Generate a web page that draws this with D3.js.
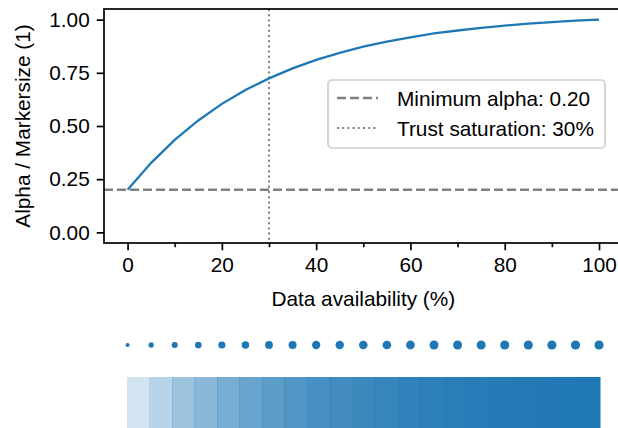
<!DOCTYPE html>
<html>
<head>
<meta charset="utf-8">
<script src="https://cdn.jsdelivr.net/npm/d3@7"></script>
<style>
  body { margin: 0; background: #fff; }
  svg { display: block; font-family: "Liberation Sans", Arial, Helvetica, sans-serif; }
</style>
</head>
<body>
<div id="chart"></div>
<script>
// data
const availability = [0, 5, 10, 15, 20, 25, 30, 35, 40, 45, 50, 55, 60, 65, 70, 75, 80, 85, 90, 95, 100]
const alphaValues = [0.200, 0.327, 0.435, 0.526, 0.604, 0.669, 0.724, 0.771, 0.811, 0.844, 0.873,
                     0.897, 0.917, 0.935, 0.949, 0.961, 0.972, 0.981, 0.988, 0.995, 1.000]
const minAlpha = 0.2
const trustSaturation = 30
const xTicks = [0, 20, 40, 60, 80, 100]
const xMinorTicks = [10, 30, 50, 70, 90]
const yTicks = [0, 0.25, 0.5, 0.75, 1]
const legendLabels = ["Minimum alpha: 0.20", "Trust saturation: 30%"]

const data = availability.map((a, i) => ({ x: a, alpha: alphaValues[i] }))

function drawChart() {
  // 1. dimensions
  const dims = {
    width: 618,
    height: 428,
    left: 104,
    right: 622.6,   // right spine sits just past the canvas edge
    top: 9,
    bottom: 243,
  }
  const blue = "#1f77b4"
  const fontSize = 20.8

  const svg = d3.select("#chart").append("svg")
    .attr("width", dims.width)
    .attr("height", dims.height)

  // 2. scales
  const xScale = d3.scaleLinear().domain([-5, 105]).range([dims.left, dims.right])
  const yScale = d3.scaleLinear().domain([-0.05, 1.05]).range([dims.bottom, dims.top])

  // 3. reference lines
  svg.append("line")
    .attr("x1", dims.left).attr("x2", dims.right)
    .attr("y1", yScale(minAlpha)).attr("y2", yScale(minAlpha))
    .attr("stroke", "#808080").attr("stroke-width", 2.4)
    .attr("stroke-dasharray", "9,4")

  svg.append("line")
    .attr("x1", xScale(trustSaturation)).attr("x2", xScale(trustSaturation))
    .attr("y1", dims.top).attr("y2", dims.bottom)
    .attr("stroke", "#808080").attr("stroke-width", 2)
    .attr("stroke-dasharray", "2,3.2")

  // 4. curve
  const line = d3.line().x(d => xScale(d.x)).y(d => yScale(d.alpha))
  svg.append("path")
    .datum(data)
    .attr("d", line)
    .attr("fill", "none")
    .attr("stroke", blue)
    .attr("stroke-width", 2.3)

  // 5. axes
  svg.append("g")
    .attr("transform", `translate(0,${dims.bottom})`)
    .call(d3.axisBottom(xScale).tickValues(xTicks).tickSize(7.3).tickPadding(7).tickSizeOuter(0)
      .tickFormat(d3.format("d")))
  svg.append("g")
    .attr("transform", `translate(0,${dims.bottom})`)
    .call(d3.axisBottom(xScale).tickValues(xMinorTicks).tickSize(4.2).tickSizeOuter(0).tickFormat(""))

  svg.append("g")
    .attr("transform", `translate(${dims.left},0)`)
    .call(d3.axisLeft(yScale).tickValues(yTicks).tickSize(7.3).tickPadding(7).tickSizeOuter(0)
      .tickFormat(d3.format(".2f")))

  svg.selectAll(".tick line").attr("stroke", "#000").attr("stroke-width", 1.7)
  svg.selectAll(".tick text").attr("fill", "#000").style("font-size", fontSize + "px")
  svg.selectAll(".domain").remove()

  // spines
  svg.append("rect")
    .attr("x", dims.left).attr("y", dims.top)
    .attr("width", dims.right - dims.left).attr("height", dims.bottom - dims.top)
    .attr("fill", "none").attr("stroke", "#000").attr("stroke-width", 1.7)

  // axis labels
  svg.append("text")
    .attr("x", (dims.left + dims.right) / 2)
    .attr("y", 306)
    .attr("text-anchor", "middle")
    .style("font-size", fontSize + "px")
    .text("Data availability (%)")

  svg.append("text")
    .attr("transform", `translate(30,${(dims.top + dims.bottom) / 2}) rotate(-90)`)
    .attr("text-anchor", "middle")
    .style("font-size", fontSize + "px")
    .text("Alpha / Markersize (1)")

  // 6. legend
  const legend = svg.append("g").attr("transform", "translate(328,80)")
  legend.append("rect")
    .attr("width", 277).attr("height", 68)
    .attr("rx", 4)
    .attr("fill", "#fff").attr("fill-opacity", 0.8)
    .attr("stroke", "#d0d0d0").attr("stroke-width", 1.7)

  const legendStyles = [
    { dash: "9,4", width: 2.4 },
    { dash: "2,3.2", width: 2 },
  ]
  legendLabels.forEach((label, i) => {
    const y = 18 + i * 30
    legend.append("line")
      .attr("x1", 9).attr("x2", 50)
      .attr("y1", y).attr("y2", y)
      .attr("stroke", "#808080")
      .attr("stroke-width", legendStyles[i].width)
      .attr("stroke-dasharray", legendStyles[i].dash)
    legend.append("text")
      .attr("x", 69).attr("y", y + 7.5)
      .style("font-size", fontSize + "px")
      .text(label)
  })

  // 7. marker size strip
  const rScale = d3.scaleSqrt().domain([0, 1]).range([0, 4.6])
  svg.append("g").selectAll("circle")
    .data(data)
    .join("circle")
      .attr("cx", d => xScale(d.x))
      .attr("cy", 345)
      .attr("r", d => rScale(d.alpha))
      .attr("fill", blue)

  // 8. alpha strip
  const bandScale = d3.scaleBand().domain(availability).range([127, 600]).padding(0)
  svg.append("g").selectAll("rect")
    .data(data)
    .join("rect")
      .attr("x", d => bandScale(d.x))
      .attr("y", 377)
      .attr("width", bandScale.bandwidth() + 0.5)
      .attr("height", 60)
      .attr("fill", blue)
      .attr("fill-opacity", d => d.alpha)
}

drawChart()
</script>
</body>
</html>
